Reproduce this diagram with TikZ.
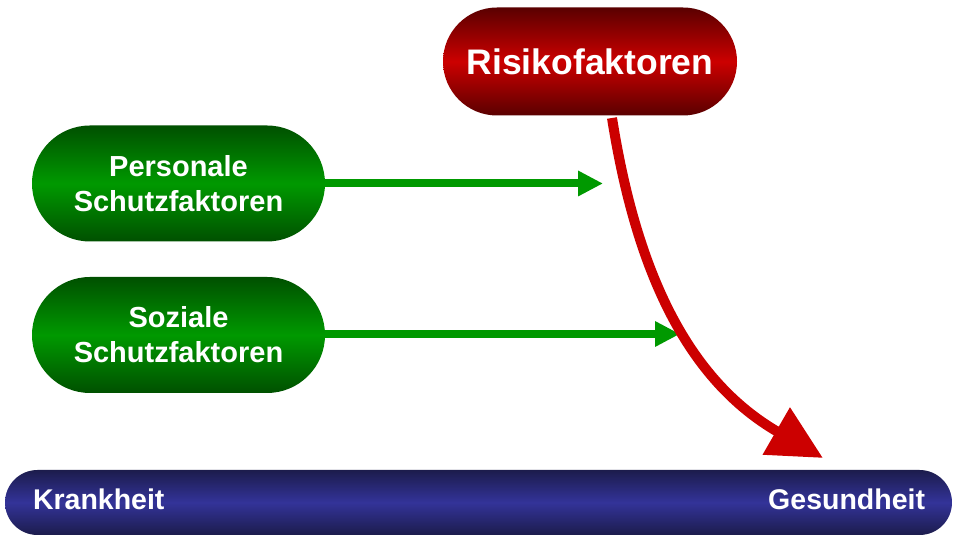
\documentclass[tikz,border=0pt]{standalone}
\usepackage{fontspec}
\setmainfont{Liberation Sans}
\usetikzlibrary{arrows.meta, positioning}

\definecolor{riskdark}{HTML}{5A0000}
\definecolor{riskred}{HTML}{CC0000}
\definecolor{protdark}{HTML}{005000}
\definecolor{protgreen}{HTML}{009900}
\definecolor{barnavy}{HTML}{1C1C4C}
\definecolor{barblue}{HTML}{333399}

\begin{document}
\begin{tikzpicture}[
  x=1pt, y=1pt,
  pill/.style={rectangle, text=white, align=center, inner sep=0pt},
  riskbox/.style={pill, minimum width=294pt, minimum height=108pt, rounded corners=54pt,
    top color=riskdark, bottom color=riskdark, middle color=riskred,
    font=\fontsize{35.5}{42}\selectfont\bfseries},
  protbox/.style={pill, minimum width=293pt, minimum height=116pt, rounded corners=58pt,
    top color=protdark, bottom color=protdark, middle color=protgreen,
    font=\fontsize{29}{35}\selectfont\bfseries},
  axisbar/.style={pill, minimum width=947pt, minimum height=65pt, rounded corners=32.5pt,
    top color=barnavy, bottom color=barnavy, middle color=barblue},
  bartext/.style={text=white, inner sep=0pt, font=\fontsize{28.5}{34}\selectfont\bfseries},
  protarrow/.style={draw=protgreen, line width=8pt, -{Triangle[length=25pt, width=24pt]}},
  riskarrow/.style={draw=riskred, line width=10pt, -{Triangle[length=54pt, width=52pt]}}
  ]
  \useasboundingbox (0,0) rectangle (953,537);
  % Boxes
  \node[riskbox] (risk) at (590,475.5) {Risikofaktoren};
  \node[protbox] (pers) at (178.5,353.5) {Personale\\Schutzfaktoren};
  \node[protbox] (soz)  at (178.5,202) {Soziale\\Schutzfaktoren};
  % Scale
  \node[axisbar] (bar) at (478.5,34.5) {};
  \node[bartext, anchor=west] (krank)  at ([xshift=28pt, yshift=3.5pt]bar.west) {Krankheit};
  \node[bartext, anchor=east] (gesund) at ([xshift=-27pt, yshift=3.5pt]bar.east) {Gesundheit};
  % Arrows
  \coordinate (pend)   at (603,353.5);
  \coordinate (send)   at (680,203);
  \coordinate (rstart) at (612,419);
  \coordinate (rend)   at (823,79);
  \draw[protarrow] (pers.east) -- (pend);
  \draw[protarrow] (soz.east |- send) -- (send);
  \draw[riskarrow] (rstart) to[out=-81, in=150] (rend);
\end{tikzpicture}
\end{document}
